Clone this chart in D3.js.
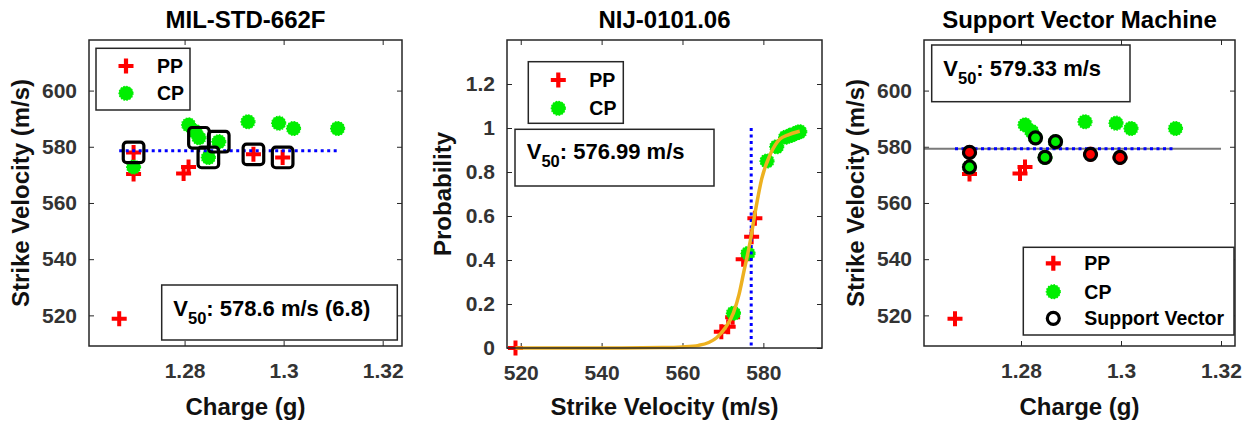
<!DOCTYPE html>
<html><head><meta charset="utf-8">
<script src="https://cdn.jsdelivr.net/npm/d3@7"></script>
<style>
body{margin:0;background:#fff}
text{font-family:"Liberation Sans",Arial,sans-serif;font-weight:bold}
</style></head>
<body><svg id="c" width="1253" height="426"></svg>
<script>
// ---------- data ----------
const titles = ["MIL-STD-662F", "NIJ-0101.06", "Support Vector Machine"];
const ppCharge = [1.2668, 1.2697, 1.2697, 1.2798, 1.2808, 1.2939, 1.2998];
const ppVel    = [518.8, 578.0, 570.3, 570.5, 572.8, 577.3, 576.2];
const cpCharge = [1.2697, 1.2808, 1.2821, 1.2829, 1.2848, 1.2869, 1.2928, 1.2990, 1.3020, 1.3109];
const cpVel    = [572.8, 587.8, 585.5, 583.2, 576.2, 581.8, 588.9, 588.4, 586.5, 586.5];
// MIL-STD boxed (used) shots
const boxCharge = [1.2697, 1.2829, 1.2848, 1.2869, 1.2939, 1.2998];
const boxVel    = [578.0, 583.2, 576.2, 581.8, 577.3, 576.2];
// SVM support vectors
const svCharge = [1.2697, 1.2697, 1.2829, 1.2848, 1.2869, 1.2939, 1.2998];
const svVel    = [578.0, 572.8, 583.2, 576.2, 581.8, 577.3, 576.2];
const svClass  = ["PP", "CP", "CP", "CP", "CP", "PP", "PP"];
// NIJ probability panel
const nijPPVel  = [518.7, 569.6, 571.3, 572.4, 575.0, 577.1, 577.9];
const nijPPProb = [0.0, 0.074, 0.097, 0.14, 0.403, 0.506, 0.59];
const nijCPVel  = [572.6, 576.2, 580.9, 583.3, 585.5, 586.7, 586.9, 587.9, 588.5, 589.0];
const nijCPProb = [0.158, 0.43, 0.85, 0.915, 0.958, 0.966, 0.968, 0.975, 0.98, 0.983];
const curveVel  = [518.7, 540, 555, 560, 564, 566.5, 568.5, 570.5, 572.6, 574, 575.1, 576.8, 578, 579.6, 581.7, 584.1, 586, 588.5, 589];
const curveProb = [0.0, 0.0, 0.002, 0.005, 0.012, 0.025, 0.048, 0.09, 0.16, 0.245, 0.34, 0.49, 0.62, 0.77, 0.88, 0.95, 0.968, 0.983, 0.985];
// V50 results
const v50 = [578.6, 576.99, 579.33];
const v50Std = 6.8;
const svmLineCharge = [1.2606, 1.32];
// ticks
const chargeTicks = [1.28, 1.30, 1.32];
const chargeTickLabels = ["1.28", "1.3", "1.32"];
const velTicks = [520, 540, 560, 580, 600];
const nijXTicks = [520, 540, 560, 580];
const probTicks = [0, 0.2, 0.4, 0.6, 0.8, 1.0, 1.2];
const probTickLabels = ["0", "0.2", "0.4", "0.6", "0.8", "1", "1.2"];

// ---------- drawing ----------
const svg = d3.select("#c");
const AX = "#262626";
const RED = "#ff0000", GREEN = "#00ee00", BLUE = "#0000ff", ORANGE = "#EDB120";

const panels = [
  {l:89, r:402, t:40, b:346, xd:[1.2607, 1.3239], yd:[509.1, 618.0]},
  {l:507, r:822, t:40, b:348, xd:[516.6, 594.5], yd:[0, 1.4]},
  {l:924, r:1235, t:40, b:346, xd:[1.2606, 1.3228], yd:[509.1, 618.0]}
];
panels.forEach(p => {
  p.x = d3.scaleLinear().domain(p.xd).range([p.l, p.r]);
  p.y = d3.scaleLinear().domain(p.yd).range([p.b, p.t]);
});

function axes(p, xt, xl, yt, yl, title, xlab, ylab, ylabX) {
  const g = svg.append("g");
  g.append("rect").attr("x", p.l).attr("y", p.t).attr("width", p.r - p.l).attr("height", p.b - p.t)
    .attr("fill", "#fff").attr("stroke", "none");
  const style = s => s.call(a => a.select(".domain").remove())
    .call(a => a.selectAll("line").attr("stroke", AX).attr("stroke-width", 1))
    .call(a => a.selectAll("text").attr("fill", "#333").attr("font-size", 21)
      .style("font-family", '"Liberation Sans",Arial,sans-serif').style("font-weight", "bold"));
  g.append("g").attr("transform", `translate(0,${p.b})`)
    .call(d3.axisBottom(p.x).tickValues(xt).tickFormat((d, i) => xl[i]).tickSize(-5).tickPadding(17)).call(style);
  g.append("g").attr("transform", `translate(0,${p.t})`)
    .call(d3.axisTop(p.x).tickValues(xt).tickFormat("").tickSize(-5)).call(style);
  g.append("g").attr("transform", `translate(${p.l},0)`)
    .call(d3.axisLeft(p.y).tickValues(yt).tickFormat((d, i) => yl[i]).tickSize(-5).tickPadding(12)).call(style);
  g.append("g").attr("transform", `translate(${p.r},0)`)
    .call(d3.axisRight(p.y).tickValues(yt).tickFormat("").tickSize(-5)).call(style);
  const cx = (p.l + p.r) / 2;
  svg.append("text").attr("x", cx).attr("y", 28).attr("text-anchor", "middle")
    .attr("font-size", 24).attr("fill", "#000").text(title);
  svg.append("text").attr("x", cx).attr("y", 415).attr("text-anchor", "middle")
    .attr("font-size", 24).attr("fill", "#111").text(xlab);
  svg.append("text").attr("transform", `translate(${ylabX},${(p.t + p.b) / 2}) rotate(-90)`)
    .attr("text-anchor", "middle").attr("font-size", 24).attr("fill", "#111").text(ylab);
}
function frame(p) {
  svg.append("rect").attr("x", p.l).attr("y", p.t).attr("width", p.r - p.l).attr("height", p.b - p.t)
    .attr("fill", "none").attr("stroke", AX).attr("stroke-width", 1.5);
}
function plus(g, cx, cy, s = 7.5, sw = 4) {
  g.append("path").attr("d", `M${cx - s},${cy}H${cx + s}M${cx},${cy - s}V${cy + s}`)
    .attr("stroke", RED).attr("stroke-width", sw).attr("fill", "none");
}
function blob(g, cx, cy, r = 7) {
  g.append("circle").attr("cx", cx).attr("cy", cy).attr("r", r).attr("fill", GREEN)
    .attr("stroke", GREEN).attr("stroke-width", 1.2).attr("stroke-dasharray", "1.5,1.5");
}
function ring(g, cx, cy, fill) {
  g.append("circle").attr("cx", cx).attr("cy", cy).attr("r", 6).attr("fill", fill)
    .attr("stroke", "#000").attr("stroke-width", 3.2);
}
function box(g, x0, y0, x1, y1) {
  g.append("rect").attr("x", x0).attr("y", y0).attr("width", x1 - x0).attr("height", y1 - y0)
    .attr("fill", "#fff").attr("stroke", AX).attr("stroke-width", 1.5);
}
function v50Text(g, x, y, rest) {
  const t = g.append("text").attr("x", x).attr("y", y).attr("font-size", 22).attr("fill", "#000");
  t.append("tspan").text("V");
  t.append("tspan").attr("font-size", 16.5).attr("dy", 8).text("50");
  t.append("tspan").attr("dy", -8).text(rest);
}
function legend(g, x0, y0, x1, y1, items) {
  box(g, x0, y0, x1, y1);
  items.forEach(it => {
    const mx = x0 + 30, tx = x0 + 61;
    if (it.k === "PP") plus(g, mx, it.y, 7.5, 4.2);
    else if (it.k === "CP") blob(g, mx, it.y);
    else ring(g, mx, it.y, "#fff");
    g.append("text").attr("x", tx).attr("y", it.y).attr("dy", "0.36em").attr("font-size", 19.5)
      .attr("fill", "#000").text(it.label);
  });
}

// ---- Panel 1 ----
{
  const p = panels[0];
  axes(p, chargeTicks, chargeTickLabels, velTicks, velTicks.map(String), titles[0], "Charge (g)", "Strike Velocity (m/s)", 29);
  const g = svg.append("g");
  ppCharge.forEach((c, i) => plus(g, p.x(c), p.y(ppVel[i])));
  cpCharge.forEach((c, i) => blob(g, p.x(c), p.y(cpVel[i])));
  g.append("line").attr("x1", p.x(d3.min(ppCharge.concat(cpCharge)))).attr("x2", p.x(d3.max(ppCharge.concat(cpCharge))))
    .attr("y1", p.y(v50[0])).attr("y2", p.y(v50[0]))
    .attr("stroke", BLUE).attr("stroke-width", 3).attr("stroke-dasharray", "3,3.5");
  boxCharge.forEach((c, i) => {
    g.append("rect").attr("x", p.x(c) - 10.3).attr("y", p.y(boxVel[i]) - 10.3).attr("width", 20.6).attr("height", 20.6)
      .attr("rx", 3.5).attr("fill", "none").attr("stroke", "#000").attr("stroke-width", 3.2);
  });
  frame(p);
  legend(g, 96, 48.3, 190, 110, [{k:"PP", y:66, label:"PP"}, {k:"CP", y:93.3, label:"CP"}]);
  box(g, 161.7, 285, 397.3, 340);
  v50Text(g, 173.3, 316, `: ${v50[0]} m/s (${v50Std})`);
}
// ---- Panel 2 ----
{
  const p = panels[1];
  axes(p, nijXTicks, nijXTicks.map(String), probTicks, probTickLabels, titles[1], "Strike Velocity (m/s)", "Probability", 451);
  const g = svg.append("g");
  nijPPVel.forEach((v, i) => plus(g, p.x(v), p.y(nijPPProb[i])));
  nijCPVel.forEach((v, i) => blob(g, p.x(v), p.y(nijCPProb[i])));
  g.append("line").attr("x1", p.x(v50[1])).attr("x2", p.x(v50[1])).attr("y1", p.y(1)).attr("y2", p.y(0))
    .attr("stroke", BLUE).attr("stroke-width", 3).attr("stroke-dasharray", "3,3.5");
  const line = d3.line().x(d => p.x(d[0])).y(d => p.y(d[1])).curve(d3.curveMonotoneX);
  g.append("path").attr("d", line(curveVel.map((v, i) => [v, curveProb[i]])))
    .attr("fill", "none").attr("stroke", ORANGE).attr("stroke-width", 3.5);
  frame(p);
  legend(g, 528.3, 61.7, 623.3, 123.3, [{k:"PP", y:80, label:"PP"}, {k:"CP", y:108.3, label:"CP"}]);
  box(g, 515, 129.3, 714, 186);
  v50Text(g, 526.7, 159, `: ${v50[1]} m/s`);
}
// ---- Panel 3 ----
{
  const p = panels[2];
  axes(p, chargeTicks, chargeTickLabels, velTicks, velTicks.map(String), titles[2], "Charge (g)", "Strike Velocity (m/s)", 864);
  const g = svg.append("g");
  ppCharge.forEach((c, i) => plus(g, p.x(c), p.y(ppVel[i])));
  cpCharge.forEach((c, i) => blob(g, p.x(c), p.y(cpVel[i])));
  g.append("line").attr("x1", p.x(svmLineCharge[0])).attr("x2", p.x(svmLineCharge[1]))
    .attr("y1", p.y(v50[2])).attr("y2", p.y(v50[2])).attr("stroke", "#7a7a7a").attr("stroke-width", 2);
  g.append("line").attr("x1", p.x(d3.min(ppCharge.concat(cpCharge)))).attr("x2", p.x(d3.max(ppCharge.concat(cpCharge))))
    .attr("y1", p.y(v50[2])).attr("y2", p.y(v50[2]))
    .attr("stroke", BLUE).attr("stroke-width", 3).attr("stroke-dasharray", "3,3.5");
  svCharge.forEach((c, i) => ring(g, p.x(c), p.y(svVel[i]), svClass[i] === "PP" ? RED : GREEN));
  frame(p);
  box(g, 931.7, 45, 1130, 101.7);
  v50Text(g, 943.3, 76, `: ${v50[2]} m/s`);
  legend(g, 1023.3, 247.3, 1234, 335, [{k:"PP", y:263.3, label:"PP"}, {k:"CP", y:291.7, label:"CP"}, {k:"SV", y:318.3, label:"Support Vector"}]);
}
</script>
</body></html>
